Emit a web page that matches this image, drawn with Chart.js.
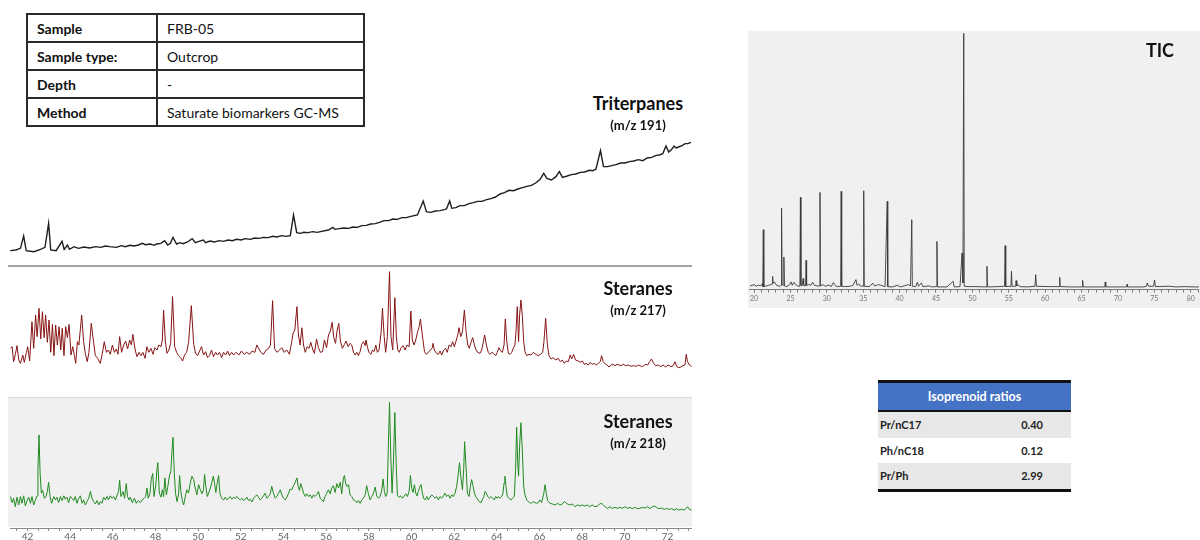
<!DOCTYPE html>
<html>
<head>
<meta charset="utf-8">
<script src="https://cdn.jsdelivr.net/npm/chart.js@4.4.1/dist/chart.umd.min.js"></script>
<style>
  html, body { margin: 0; padding: 0; background: #fff; }
  body { width: 1200px; height: 540px; position: relative; overflow: hidden; font-family: Lato, "Open Sans", sans-serif; color: #111; }
  .abs { position: absolute; }
  canvas { position: absolute; }

  /* sample info table */
  #infoTable { position: absolute; left: 26px; top: 13px; border-collapse: collapse; font-size: 14px; }
  #infoTable td { border: 2px solid #2b2b2b; height: 26px; padding: 0 9px; white-space: nowrap; }
  #infoTable td.k { font-weight: bold; width: 110px; }
  #infoTable td.v { width: 187px; }

  .ttl { position: absolute; text-align: center; font-weight: bold; line-height: 1; }
  .big { font-size: 18px; }
  .mz { font-size: 13px; }

  /* isoprenoid ratio table */
  #isoTable { position: absolute; left: 878px; top: 380px; width: 193px; border-collapse: collapse; font-size: 11px; font-weight: bold; color: #222; }
  #isoTable th { background: #4472c4; color: #fff; font-size: 12.5px; height: 27px; border-top: 3px solid #111; border-bottom: 2px solid #111; padding: 0; }
  #isoTable td { height: 25.5px; padding: 0 2px; }
  #isoTable td.val { text-align: right; padding-right: 28px; }
  #isoTable tr.g td { background: #e7e7e7; }
  #isoTable tr.last td { border-bottom: 3px solid #111; }
</style>
</head>
<body>

<table id="infoTable">
  <tr><td class="k">Sample</td><td class="v">FRB-05</td></tr>
  <tr><td class="k">Sample type:</td><td class="v">Outcrop</td></tr>
  <tr><td class="k">Depth</td><td class="v">-</td></tr>
  <tr><td class="k">Method</td><td class="v">Saturate biomarkers GC-MS</td></tr>
</table>

<!-- panel backgrounds / separators -->
<div class="abs" style="left:8px; top:265px; width:684px; height:2px; background:#a3a3a3;"></div>
<div class="abs" style="left:8px; top:397px; width:684px; height:129px; background:#f0f0f0; border-top:1px solid #dcdcdc;"></div>
<div class="abs" style="left:748px; top:31px; width:452px; height:277px; background:#f0f0f0;"></div>

<canvas id="triChart" width="682" height="140" style="left:10px; top:130px;"></canvas>
<canvas id="s217Chart" width="682" height="115" style="left:10px; top:265px;"></canvas>
<canvas id="s218Chart" width="682" height="145" style="left:10px; top:398px;"></canvas>
<canvas id="ticChart" width="452" height="274" style="left:748px; top:31px;"></canvas>

<div class="ttl big" style="left:578px; width:120px; top:94px;">Triterpanes</div>
<div class="ttl mz" style="left:578px; width:120px; top:119px;">(m/z 191)</div>
<div class="ttl big" style="left:578px; width:120px; top:279px;">Steranes</div>
<div class="ttl mz" style="left:578px; width:120px; top:304px;">(m/z 217)</div>
<div class="ttl big" style="left:578px; width:120px; top:412px;">Steranes</div>
<div class="ttl mz" style="left:578px; width:120px; top:437px;">(m/z 218)</div>
<div class="ttl big" style="left:1130px; width:60px; top:41px;">TIC</div>

<table id="isoTable">
  <tr><th colspan="2">Isoprenoid ratios</th></tr>
  <tr class="g"><td>Pr/nC17</td><td class="val">0.40</td></tr>
  <tr><td>Ph/nC18</td><td class="val">0.12</td></tr>
  <tr class="g last"><td>Pr/Ph</td><td class="val">2.99</td></tr>
</table>

<script>
// ---------------------------------------------------------------
// Chromatogram traces
// [retention time (min), relative intensity]
// ---------------------------------------------------------------

// TIC, full run
const ticTrace = [
  [19.45,6],[20.0,10],[20.3,5],[20.6,9],[20.9,6],[21.1,12],[21.2,4],[21.27,175],[21.34,4],[21.7,6],[22.0,8],[22.3,10],
  [22.5,12],[22.55,35],[22.62,14],[22.8,18],[23.0,10],[23.3,6],[23.6,5],[23.72,8],[23.78,240],[23.86,10],[24.02,8],
  [24.1,93],[24.18,6],[24.5,4],[24.9,10],[25.1,18],[25.25,8],[25.5,17],[25.7,10],[26.0,6],[26.3,5],[26.37,272],
  [26.44,8],[26.6,6],[26.74,28],[26.82,8],[27.08,6],[27.15,83],[27.22,8],[27.5,10],[27.8,8],[28.06,17],[28.3,8],
  [28.7,6],[29.0,6],[29.06,287],[29.12,6],[29.47,10],[29.8,5],[30.3,9],[30.6,4],[30.9,16],[31.2,6],[31.5,4],
  [31.9,5],[31.97,290],[32.04,5],[32.4,4],[33.2,5],[33.6,8],[34.0,25],[34.15,8],[34.4,12],[34.6,6],[35.0,5],
  [35.07,292],[35.14,5],[35.8,4],[36.35,14],[36.6,6],[37.1,10],[37.4,8],[38.0,4],[38.3,260],[38.37,4],[39.0,3],
  [39.7,8],[40.1,3],[40.9,8],[41.2,10],[41.5,6],[41.67,205],[41.75,5],[42.2,4],[42.44,17],[42.6,5],[42.99,15],
  [43.2,4],[44.08,6],[44.5,3],[45.05,4],[45.13,140],[45.2,3],[46.5,3],[47.36,20],[47.5,3],[48.3,4],[48.58,105],
  [48.7,15],[48.81,765],[48.88,5],[49.5,4],[50.5,4],[51.9,3],[52.0,65],[52.08,3],[53.5,4],[54.42,5],[54.5,127],
  [54.58,4],[55.3,5],[55.37,50],[55.45,5],[55.95,5],[56.0,22],[56.1,6],[56.3,10],[56.5,4],[57.5,3],[58.6,5],
  [58.7,40],[58.8,5],[60.5,4],[61.95,4],[62.0,32],[62.07,4],[63.5,3],[65.1,3],[65.15,23],[65.22,3],[66.5,3],
  [68.2,3],[68.25,18],[68.32,3],[70.0,3],[71.2,3],[71.25,11],[71.32,3],[73.5,3],[73.9,5],[74.03,15],[74.2,5],
  [74.9,5],[75.03,24],[75.15,4],[77.1,5],[78.0,3],[79.1,4],[80.5,3],[81.13,3]
];

// Triterpanes m/z 191
const tri191Trace = [
  [41.19,58],[41.46,60],[41.67,65],[41.82,102],[41.94,58],[42.30,55],[42.61,62],[42.82,68],[42.99,140],[43.09,60],
  [43.34,58],[43.62,86],[43.72,62],[43.87,75],[43.97,62],[44.18,70],[44.39,65],[44.65,69],[44.91,66],[45.20,70],
  [45.43,68],[45.65,72],[45.85,70],[46.17,68],[46.40,73],[46.59,70],[46.80,74],[47.00,72],[47.20,75],[47.38,80],
  [47.53,76],[47.75,78],[47.94,74],[48.05,78],[48.25,80],[48.43,88],[48.57,75],[48.70,80],[48.82,98],[48.99,78],
  [49.15,82],[49.30,79],[49.50,84],[49.72,94],[49.87,82],[50.04,86],[50.24,90],[50.35,82],[50.56,87],[50.77,84],
  [50.98,88],[51.19,86],[51.40,90],[51.60,88],[51.80,92],[52.02,90],[52.20,94],[52.44,92],[52.65,96],[52.86,95],
  [53.05,98],[53.28,97],[53.50,101],[53.70,99],[53.90,103],[54.11,101],[54.32,103],[54.47,165],[54.62,112],
  [54.80,110],[54.95,113],[55.15,112],[55.37,115],[55.58,113],[55.79,116],[56.10,120],[56.31,128],[56.41,122],
  [56.62,124],[56.83,126],[57.05,125],[57.25,129],[57.46,128],[57.67,133],[57.88,134],[58.09,138],[58.30,139],
  [58.50,143],[58.71,148],[58.92,148],[59.13,153],[59.34,152],[59.55,157],[59.76,157],[59.97,161],[60.28,165],
  [60.55,207],[60.70,175],[60.90,173],[61.12,177],[61.33,178],[61.54,181],[61.64,183],[61.79,207],[61.89,185],
  [62.08,187],[62.27,193],[62.48,193],[62.69,199],[62.90,202],[63.11,206],[63.30,206],[63.52,211],[63.73,214],
  [63.94,219],[64.15,228],[64.36,232],[64.57,239],[64.78,238],[64.99,243],[65.20,247],[65.41,251],[65.62,254],
  [65.82,261],[66.03,272],[66.20,290],[66.35,275],[66.56,270],[66.77,280],[66.93,295],[67.08,278],[67.30,282],
  [67.50,286],[67.70,288],[67.92,293],[68.12,294],[68.33,299],[68.50,298],[68.65,303],[68.86,358],[69.00,310],
  [69.19,310],[69.38,313],[69.59,316],[69.80,321],[70.01,321],[70.22,325],[70.42,327],[70.63,331],[70.84,328],
  [71.05,336],[71.26,338],[71.47,344],[71.63,345],[71.78,349],[71.93,372],[72.06,354],[72.20,362],[72.31,372],
  [72.40,366],[72.52,369],[72.68,373],[72.83,379],[72.96,379],[73.10,383]
];

// Steranes m/z 217
const ster217Trace = [
  [41.20,95],[41.28,100],[41.35,55],[41.43,77],[41.51,103],[41.59,60],[41.67,50],[41.78,75],[41.85,53],[41.95,83],
  [42.01,100],[42.10,57],[42.21,175],[42.29,95],[42.38,195],[42.45,130],[42.54,215],[42.62,123],[42.70,205],
  [42.78,127],[42.85,195],[42.93,113],[43.01,180],[43.09,83],[43.17,167],[43.24,73],[43.32,165],[43.40,105],
  [43.48,160],[43.56,90],[43.63,155],[43.71,73],[43.79,160],[43.87,127],[43.95,167],[44.04,75],[44.12,100],
  [44.20,73],[44.26,50],[44.34,115],[44.41,105],[44.54,195],[44.63,115],[44.71,80],[44.80,55],[44.88,83],
  [44.99,170],[45.10,113],[45.18,73],[45.29,65],[45.41,50],[45.51,80],[45.60,115],[45.70,83],[45.79,90],
  [45.88,77],[45.98,105],[46.07,83],[46.16,93],[46.24,77],[46.32,130],[46.41,83],[46.51,105],[46.60,117],
  [46.69,93],[46.79,120],[46.87,105],[46.94,137],[47.04,93],[47.13,70],[47.23,83],[47.32,73],[47.41,83],
  [47.51,65],[47.60,100],[47.69,83],[47.79,95],[47.88,77],[47.97,97],[48.07,90],[48.16,105],[48.26,100],
  [48.32,120],[48.38,210],[48.46,117],[48.54,80],[48.63,90],[48.71,110],[48.80,250],[48.90,100],[48.99,83],
  [49.08,73],[49.18,67],[49.27,57],[49.36,75],[49.46,83],[49.55,113],[49.68,223],[49.79,107],[49.88,80],
  [49.97,73],[50.07,87],[50.16,100],[50.25,75],[50.35,85],[50.44,67],[50.53,73],[50.63,90],[50.72,70],
  [50.82,83],[50.91,75],[51.00,83],[51.10,67],[51.19,83],[51.29,75],[51.38,87],[51.47,73],[51.57,83],
  [51.66,75],[51.78,83],[51.91,75],[52.03,87],[52.16,77],[52.28,83],[52.41,77],[52.53,87],[52.66,83],
  [52.75,105],[52.85,93],[52.94,83],[53.06,77],[53.19,90],[53.31,95],[53.39,105],[53.49,238],[53.58,95],
  [53.69,83],[53.81,90],[53.92,97],[54.03,83],[54.16,90],[54.28,77],[54.38,113],[54.45,140],[54.53,150],
  [54.63,220],[54.70,135],[54.78,105],[54.86,157],[54.94,105],[55.02,83],[55.11,100],[55.20,95],[55.28,113],
  [55.38,90],[55.45,80],[55.55,123],[55.64,97],[55.73,83],[55.83,85],[55.92,120],[56.02,97],[56.11,135],
  [56.20,147],[56.28,173],[56.36,127],[56.44,110],[56.51,147],[56.59,170],[56.67,117],[56.76,95],[56.86,107],
  [56.94,117],[57.03,100],[57.12,110],[57.20,105],[57.28,83],[57.36,75],[57.44,83],[57.51,73],[57.59,85],
  [57.67,107],[57.75,115],[57.83,103],[57.87,120],[57.94,97],[58.01,83],[58.09,77],[58.17,90],[58.25,85],
  [58.33,105],[58.40,83],[58.48,90],[58.58,145],[58.64,215],[58.72,130],[58.79,83],[58.87,130],[58.97,325],
  [59.04,130],[59.12,90],[59.22,247],[59.29,130],[59.36,90],[59.43,83],[59.51,97],[59.61,103],[59.70,90],
  [59.79,105],[59.89,100],[59.97,207],[60.04,120],[60.12,105],[60.20,120],[60.29,145],[60.36,160],[60.42,183],
  [60.51,135],[60.61,85],[60.70,77],[60.79,83],[60.89,90],[60.98,97],[61.01,110],[61.07,90],[61.17,80],
  [61.26,77],[61.34,87],[61.42,75],[61.51,90],[61.60,95],[61.68,83],[61.76,105],[61.85,100],[61.93,115],
  [62.01,100],[62.09,117],[62.17,135],[62.23,157],[62.31,130],[62.39,145],[62.48,210],[62.56,145],[62.64,105],
  [62.71,95],[62.79,113],[62.87,127],[62.95,105],[63.03,90],[63.10,83],[63.21,80],[63.29,90],[63.37,115],
  [63.43,135],[63.51,105],[63.60,83],[63.68,77],[63.76,83],[63.85,80],[63.95,73],[64.02,83],[64.10,97],
  [64.18,87],[64.26,83],[64.34,105],[64.40,183],[64.46,120],[64.54,80],[64.62,77],[64.70,83],[64.77,95],
  [64.85,105],[64.90,145],[64.96,220],[65.02,115],[65.07,195],[65.13,240],[65.20,190],[65.26,115],[65.32,85],
  [65.40,73],[65.51,77],[65.60,75],[65.71,83],[65.82,77],[65.95,73],[66.05,77],[66.15,83],[66.21,115],
  [66.29,185],[66.37,105],[66.45,73],[66.54,63],[66.65,67],[66.76,60],[66.88,65],[66.98,55],[67.07,60],
  [67.16,50],[67.26,57],[67.35,55],[67.44,75],[67.51,63],[67.60,77],[67.69,60],[67.82,57],[67.91,53],
  [68.01,57],[68.10,47],[68.19,50],[68.29,45],[68.38,53],[68.47,47],[68.57,50],[68.66,45],[68.76,50],
  [68.85,55],[68.91,73],[68.99,55],[69.07,49],[69.16,45],[69.26,39],[69.35,45],[69.44,47],[69.54,43],
  [69.63,47],[69.72,45],[69.82,43],[69.93,47],[70.04,43],[70.16,45],[70.29,41],[70.41,43],[70.54,41],
  [70.66,45],[70.79,40],[70.89,43],[70.97,47],[71.07,45],[71.16,55],[71.25,63],[71.35,50],[71.44,43],
  [71.57,45],[71.69,40],[71.80,45],[71.91,39],[72.03,45],[72.16,40],[72.27,43],[72.35,55],[72.44,40],
  [72.53,37],[72.63,39],[72.72,43],[72.82,45],[72.88,77],[72.94,55],[73.03,45],[73.13,40]
];

// Steranes m/z 218
const ster218Trace = [
  [41.20,60],[41.28,42],[41.35,55],[41.43,30],[41.51,58],[41.59,35],[41.67,60],[41.74,40],[41.82,62],[41.90,32],
  [41.98,48],[42.06,58],[42.14,40],[42.21,60],[42.29,35],[42.37,50],[42.45,62],[42.49,140],[42.54,242],[42.59,130],
  [42.65,70],[42.71,78],[42.79,55],[42.87,60],[42.93,75],[42.99,102],[43.06,60],[43.13,40],[43.23,60],[43.31,50],
  [43.38,58],[43.46,42],[43.54,60],[43.62,48],[43.70,62],[43.77,52],[43.85,58],[43.93,42],[44.01,60],[44.09,55],
  [44.17,48],[44.24,60],[44.32,40],[44.40,55],[44.48,62],[44.56,40],[44.63,50],[44.71,35],[44.79,45],[44.87,55],
  [44.95,75],[45.02,55],[45.10,45],[45.18,38],[45.26,48],[45.34,35],[45.41,45],[45.49,40],[45.57,58],[45.65,50],
  [45.73,60],[45.80,50],[45.88,62],[45.96,55],[46.04,60],[46.12,50],[46.19,62],[46.27,75],[46.32,108],[46.38,60],
  [46.48,75],[46.55,55],[46.63,98],[46.69,60],[46.76,50],[46.82,58],[46.91,42],[47.01,55],[47.10,40],[47.19,48],
  [47.29,42],[47.38,50],[47.47,55],[47.54,60],[47.60,85],[47.66,55],[47.74,70],[47.80,110],[47.87,128],[47.93,60],
  [48.01,92],[48.07,140],[48.11,160],[48.18,70],[48.26,58],[48.32,80],[48.38,60],[48.44,115],[48.51,65],[48.58,90],
  [48.65,120],[48.72,135],[48.77,190],[48.82,235],[48.88,130],[48.94,70],[49.01,45],[49.08,65],[49.13,122],
  [49.19,75],[49.25,50],[49.32,35],[49.40,60],[49.47,80],[49.55,70],[49.63,100],[49.71,120],[49.79,110],[49.86,85],
  [49.94,65],[50.02,95],[50.10,80],[50.18,68],[50.25,80],[50.30,125],[50.36,90],[50.43,60],[50.49,70],[50.57,85],
  [50.64,102],[50.71,120],[50.77,98],[50.83,72],[50.89,98],[50.96,122],[51.02,70],[51.10,55],[51.19,50],[51.27,58],
  [51.35,50],[51.43,55],[51.50,60],[51.58,52],[51.66,58],[51.74,55],[51.82,60],[51.89,54],[51.97,50],[52.05,55],
  [52.13,48],[52.21,52],[52.28,58],[52.36,48],[52.44,52],[52.52,44],[52.60,55],[52.67,60],[52.75,65],[52.83,58],
  [52.91,50],[52.99,55],[53.06,62],[53.14,70],[53.22,55],[53.30,60],[53.38,68],[53.45,90],[53.53,70],[53.61,55],
  [53.69,60],[53.77,70],[53.85,80],[53.92,65],[54.00,55],[54.08,50],[54.16,58],[54.24,70],[54.31,82],[54.39,80],
  [54.47,92],[54.55,102],[54.63,115],[54.69,90],[54.75,78],[54.81,98],[54.88,85],[54.94,70],[55.02,60],[55.09,68],
  [55.17,60],[55.25,65],[55.33,55],[55.41,65],[55.48,60],[55.56,65],[55.64,75],[55.72,55],[55.80,50],[55.87,45],
  [55.95,60],[56.03,70],[56.11,80],[56.19,68],[56.26,85],[56.34,92],[56.42,72],[56.50,98],[56.58,85],[56.66,102],
  [56.73,68],[56.81,115],[56.86,122],[56.91,100],[56.97,90],[57.05,95],[57.12,65],[57.20,60],[57.28,50],[57.36,48],
  [57.44,42],[57.51,48],[57.59,40],[57.67,50],[57.75,55],[57.83,65],[57.90,92],[57.98,68],[58.06,50],[58.14,60],
  [58.22,70],[58.30,88],[58.37,62],[58.45,55],[58.53,60],[58.61,80],[58.67,112],[58.73,75],[58.79,60],[58.86,70],
  [58.92,220],[58.97,338],[59.03,180],[59.09,70],[59.15,155],[59.22,308],[59.28,160],[59.34,62],[59.42,58],
  [59.50,62],[59.58,55],[59.65,60],[59.73,68],[59.81,60],[59.89,75],[59.95,122],[60.01,85],[60.07,72],[60.14,95],
  [60.20,70],[60.26,62],[60.32,75],[60.39,88],[60.45,95],[60.51,70],[60.57,55],[60.64,50],[60.72,60],[60.79,50],
  [60.87,58],[60.95,65],[61.03,60],[61.11,55],[61.18,60],[61.26,50],[61.34,60],[61.42,55],[61.50,62],[61.57,70],
  [61.65,60],[61.73,65],[61.81,55],[61.89,65],[61.96,60],[62.04,70],[62.12,90],[62.20,130],[62.25,160],[62.31,120],
  [62.39,80],[62.45,142],[62.49,222],[62.56,145],[62.62,70],[62.70,60],[62.76,90],[62.82,110],[62.89,90],[62.95,70],
  [63.01,60],[63.07,55],[63.17,45],[63.26,42],[63.32,50],[63.39,60],[63.45,75],[63.51,70],[63.57,60],[63.65,55],
  [63.73,60],[63.81,55],[63.88,50],[63.95,60],[64.01,55],[64.07,60],[64.15,55],[64.23,60],[64.29,70],[64.34,100],
  [64.38,120],[64.43,90],[64.49,60],[64.57,55],[64.67,50],[64.74,55],[64.82,60],[64.88,140],[64.93,265],[64.98,160],
  [65.02,120],[65.07,210],[65.13,278],[65.20,190],[65.26,90],[65.32,65],[65.40,50],[65.48,45],[65.54,42],[65.63,40],
  [65.71,45],[65.79,42],[65.87,40],[65.95,42],[66.02,50],[66.10,42],[66.20,68],[66.26,95],[66.32,70],[66.38,48],
  [66.49,40],[66.60,38],[66.73,35],[66.85,40],[66.96,35],[67.07,38],[67.16,45],[67.23,42],[67.32,38],[67.43,35],
  [67.54,38],[67.66,30],[67.79,35],[67.90,32],[68.01,35],[68.13,32],[68.24,35],[68.35,30],[68.47,35],[68.60,30],
  [68.72,32],[68.83,38],[68.91,40],[68.99,35],[69.07,30],[69.19,25],[69.30,30],[69.41,25],[69.54,28],[69.66,25],
  [69.77,28],[69.88,25],[70.00,30],[70.13,25],[70.24,28],[70.35,24],[70.47,28],[70.60,24],[70.71,25],[70.82,28],
  [70.94,26],[71.07,30],[71.18,24],[71.29,30],[71.38,32],[71.49,28],[71.60,24],[71.72,26],[71.85,22],[71.96,25],
  [72.07,22],[72.19,24],[72.32,20],[72.42,24],[72.53,20],[72.66,22],[72.78,20],[72.88,25],[72.94,30],[73.03,22],
  [73.13,20]
];

// Retention time windows shown
const biomarkerWindow = [41.18, 73.15];
const ticWindow = [19.41, 81.13];

// Colours
const colTri = '#1e1e1e';
const col217 = '#861414';
const col218 = '#1f8a1f';
const colTic = '#3a3a3a';

Chart.defaults.font.family = 'Lato, "Open Sans", sans-serif';

const toXY = (trace) => trace.map(p => ({ x: p[0], y: p[1] }));

// builds one trace panel; axisOpts = null hides the x axis
const makeTrace = (id, trace, color, width, yMin, yMax, win, axisOpts, pad) => {
    const ctx = document.getElementById(id).getContext('2d');
    const xScale = Object.assign({ type: 'linear', min: win[0], max: win[1] }, axisOpts || { display: false });
    return new Chart(ctx, {
        type: 'line',
        data: {
            datasets: [{
                data: toXY(trace),
                borderColor: color,
                borderWidth: width,
                pointRadius: 0,
                tension: 0,
                fill: false
            }]
        },
        options: {
            responsive: false,
            animation: false,
            devicePixelRatio: 1,
            layout: { padding: pad || 0 },
            plugins: { legend: { display: false }, tooltip: { enabled: false } },
            scales: {
                x: xScale,
                y: { display: false, min: yMin, max: yMax }
            }
        }
    });
};

// Bottom axis shared by the three biomarker traces
const rtAxis = {
    display: true,
    border: { display: true, color: '#8a8a8a', width: 1 },
    grid: { display: true, drawOnChartArea: false, drawTicks: true, tickLength: 3, tickColor: '#8a8a8a' },
    ticks: {
        stepSize: 0.5, autoSkip: false, includeBounds: false, maxRotation: 0, padding: 0,
        color: '#666', font: { size: 10 },
        callback: (v) => (v % 2 === 0 ? v : '')
    }
};

const ticAxis = {
    display: true,
    border: { display: true, color: '#7a7a7a', width: 1 },
    grid: { display: true, drawOnChartArea: false, drawTicks: true, tickLength: 3, tickColor: '#7a7a7a' },
    ticks: {
        stepSize: 1, autoSkip: false, includeBounds: false, maxRotation: 0, padding: 2,
        color: '#777', font: { size: 7 },
        callback: (v) => (v % 5 === 0 ? v : '')
    }
};

makeTrace('triChart', tri191Trace, colTri, 1.4, 0, 420, biomarkerWindow, null);
makeTrace('s217Chart', ster217Trace, col217, 1, 0, 345, biomarkerWindow, null);
makeTrace('s218Chart', ster218Trace, col218, 1, -33, 351, biomarkerWindow, rtAxis);
makeTrace('ticChart', ticTrace, colTic, 0.9, -5, 772, ticWindow, ticAxis);
</script>
</body>
</html>
